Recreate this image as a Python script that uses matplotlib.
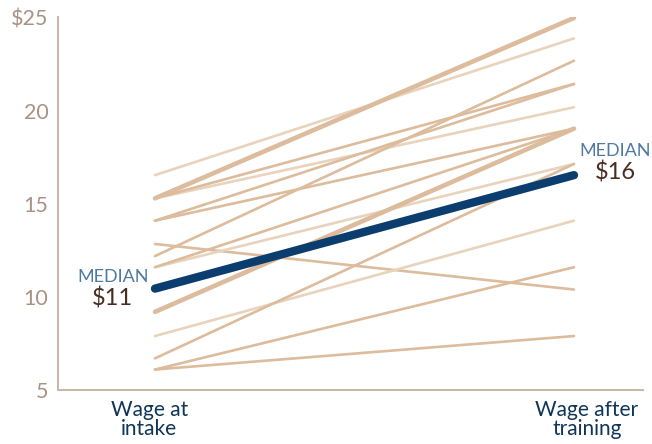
import matplotlib
matplotlib.use("Agg")
import matplotlib.pyplot as plt

# wages per trainee
wage_intake = [16.55, 15.3, 15.3, 15.3, 14.1, 14.1, 12.85, 12.2, 11.6, 11.6, 9.2, 7.9, 6.7, 6.1, 6.1]
wage_after = [23.9, 25.0, 20.2, 21.45, 21.45, 19.05, 10.4, 22.7, 17.15, 19.05, 19.05, 14.1, 17.15, 11.6, 7.9]
median_intake = 10.45
median_after = 16.55

y_ticks = [5, 10, 15, 20, 25]
y_tick_labels = ["5", "10", "15", "20", "$25"]
x_labels = ["Wage at\nintake", "Wage after\ntraining"]

# styling per line (kept apart from the data)
line_width = [1.9, 3.3, 1.9, 1.9, 1.9, 1.9, 1.9, 1.9, 1.9, 1.9, 3.3, 1.9, 1.9, 1.9, 1.9]
line_light = [True, False, True, False, False, False, False, False, True, False, False, True, False, False, False]

plt.rcParams["font.family"] = ["Lato", "DejaVu Sans"]

fig = plt.figure(figsize=(6.52, 4.44), dpi=100)
ax = fig.add_axes([58 / 652, 54 / 444, 585 / 652, 373 / 444])

tan_dark = "#dcbc9c"
tan_light = "#e8d3bd"

for a, b, w, light in zip(wage_intake, wage_after, line_width, line_light):
    ax.plot([0, 1], [a, b], color=tan_light if light else tan_dark,
            lw=w, solid_capstyle="round", zorder=2)

ax.plot([0, 1], [median_intake, median_after], color="#0b3e6e", lw=6,
        solid_capstyle="round", zorder=5)

ax.set_xlim(-0.2315, 1.1647)
ax.set_ylim(5, 25.05)

for side in ["top", "right"]:
    ax.spines[side].set_visible(False)
for side in ["left", "bottom"]:
    ax.spines[side].set_color("#c9b5aa")
    ax.spines[side].set_linewidth(1.4)

ax.set_xticks([])
ax.set_yticks(y_ticks)
ax.set_yticklabels(y_tick_labels)
ax.tick_params(axis="y", length=0, pad=7, labelsize=15.5, labelcolor="#a99184")

# category labels under the axis
for xpos, lab in zip([-0.014, 1.031], x_labels):
    ax.annotate(lab, xy=(xpos, 0), xycoords=("data", "axes fraction"),
                xytext=(0, -7), textcoords="offset points",
                ha="center", va="top", fontsize=15, color="#0f3557",
                linespacing=0.95)

# median annotations
ax.text(-0.1, median_intake + 0.65, "MEDIAN", ha="center", va="center",
        fontsize=13, color="#4f7aa3")
ax.text(-0.102, median_intake - 0.55, "$11", ha="center", va="center",
        fontsize=17, color="#4a2d22")
ax.text(1.098, median_after + 1.3, "MEDIAN", ha="center", va="center",
        fontsize=13, color="#4f7aa3")
ax.text(1.1, median_after + 0.15, "$16", ha="center", va="center",
        fontsize=17, color="#4a2d22")

fig.savefig("out.png", dpi=100)
